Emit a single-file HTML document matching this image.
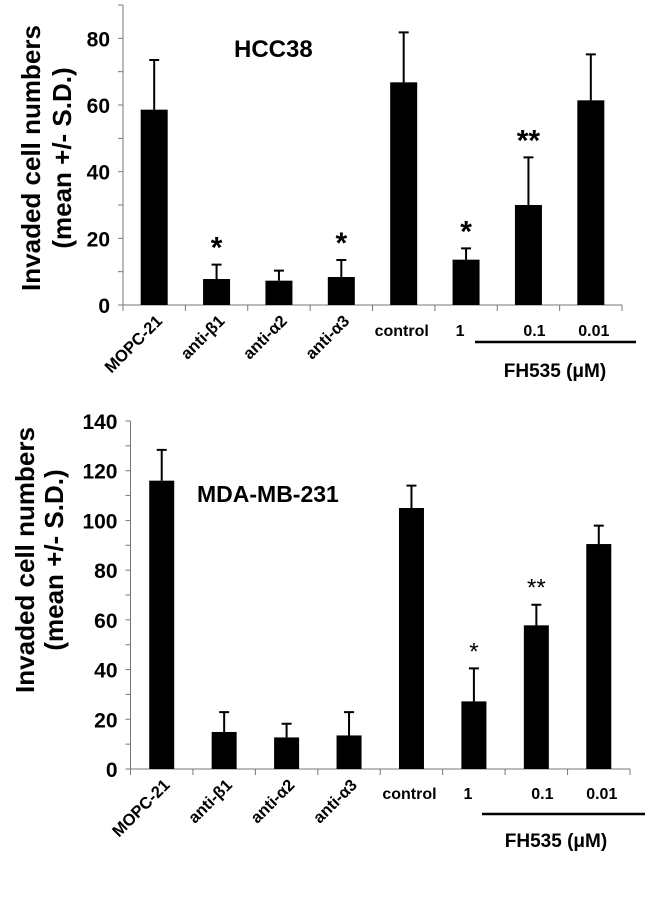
<!DOCTYPE html>
<html><head><meta charset="utf-8"><style>
body{margin:0;background:#fff}
svg{display:block;font-family:"Liberation Sans",Arial,sans-serif}
</style></head><body>
<svg id="s" width="649" height="897"></svg>
<script>
const categories=["MOPC-21","anti-β1","anti-α2","anti-α3","control","1","0.1","0.01"];
const hccValues=[58.6,7.8,7.3,8.4,66.8,13.6,30,61.4];
const hccErrors=[14.9,4.3,3.0,5.1,15.0,3.4,14.3,13.8];
const hccStars=["","*","","*","","*","**",""];
const hccTicks=[0,20,40,60,80];
const mdaValues=[116,14.9,12.7,13.5,105,27.2,57.8,90.5];
const mdaErrors=[12.4,8.0,5.5,9.4,9.0,13.3,8.3,7.4];
const mdaStars=["","","","","","*","**",""];
const mdaTicks=[0,20,40,60,80,100,120,140];
const NS="http://www.w3.org/2000/svg";
const svg=document.getElementById('s');
function mk(tag,attrs,parent,txt){const e=document.createElementNS(NS,tag);for(const k in attrs)e.setAttribute(k,attrs[k]);if(txt!==undefined)e.textContent=txt;(parent||svg).appendChild(e);return e;}
function chart(o){
  const g=mk('g',{});
  
  
  const y=v=>o.y0-(v/o.max)*(o.y0-o.ytop);
  const bw=(o.x1-o.x0)/categories.length;
  const xc=i=>o.x0+bw*(i+0.5);
  const ax=mk('line',{x1:o.x0,y1:o.ytop,x2:o.x0,y2:o.y0,stroke:'#777','stroke-width':1},g);
  
  
  const xa=mk('line',{x1:o.x0,y1:o.y0,x2:o.x1,y2:o.y0,stroke:'#777','stroke-width':1},g);
  
  
  for(let i=0;i<=categories.length;i++){mk('line',{x1:o.x0+bw*i,y1:o.y0,x2:o.x0+bw*i,y2:o.y0+6,stroke:'#777'},g);}
  const step=o.ticks[1]-o.ticks[0];
  for(let v=0;v<=o.max+0.01;v+=step/2){mk('line',{x1:o.x0-5,y1:y(v),x2:o.x0,y2:y(v),stroke:'#777'},g);}
  o.ticks.forEach(t=>{const tl=mk('text',{x:o.x0-13,y:y(t)+8,'text-anchor':'end','font-size':21,'font-weight':'bold'},g,t);
    
    });
  categories.forEach((c,i)=>{
    const b=mk('rect',{x:xc(i)-o.barW/2,y:y(o.values[i]),width:o.barW,height:o.y0-y(o.values[i]),fill:'#000'},g);
    
    
    const top=y(o.values[i]+o.errors[i]);
    const e=mk('path',{d:`M${xc(i)} ${y(o.values[i])}V${top}M${xc(i)-5} ${top}H${xc(i)+5}`,stroke:'#000','stroke-width':2,fill:'none'},g);
    
    
    if(o.stars[i]){const s=mk('text',{x:xc(i),y:top-o.starGap,'text-anchor':'middle','font-size':o.starSize,'font-weight':o.starWeight},g,o.stars[i]);
      
      }
    let t;
    if(i<4){t=mk('text',{x:xc(i)+9,y:o.y0+17,'text-anchor':'end','font-size':16.5,'font-weight':'bold',transform:`rotate(-45 ${xc(i)+9} ${o.y0+17})`},g,c);}
    else{t=mk('text',{x:xc(i)+(i===4?-2:i===5?-6:i===6?6:3),y:o.lblY,'text-anchor':'middle','font-size':16,'font-weight':'bold'},g,c);}
    
    
  });
  const ln=mk('line',{x1:o.lineX0,y1:o.lineY,x2:o.lineX1,y2:o.lineY,stroke:'#000','stroke-width':2.5},g);
  
  
  const fh=mk('text',{x:o.fhX,y:o.fhY,'text-anchor':'middle','font-size':19,'font-weight':'bold'},g,'FH535 (μM)');
  
  
  const tt=mk('text',{x:o.titleX,y:o.titleY,'font-size':o.titleSize,'font-weight':'bold'},g,o.title);
  
  
  const yt=mk('text',{transform:`translate(${o.ytX},${o.ytY}) rotate(-90)`,'text-anchor':'middle','font-size':o.ytSize,'font-weight':'bold'},g);
  
  
  mk('tspan',{x:0,y:0},yt,'Invaded cell numbers');
  mk('tspan',{x:0,y:o.ytGap},yt,'(mean +/- S.D.)');
}
chart({name:'hcc38-chart',values:hccValues,errors:hccErrors,stars:hccStars,ticks:hccTicks,max:90,x0:123,x1:622,ytop:5,y0:305,barW:27,
  starGap:7,starSize:30,starWeight:'bold',lblY:336,lineX0:475,lineX1:636,lineY:342,fhX:555,fhY:377,title:'HCC38',titleX:234,titleY:57,titleSize:24,ytX:40,ytY:158,ytSize:26,ytGap:31});
chart({name:'mda-mb-231-chart',values:mdaValues,errors:mdaErrors,stars:mdaStars,ticks:mdaTicks,max:140,x0:130.5,x1:630,ytop:421,y0:769,barW:25,
  starGap:9,starSize:24,starWeight:'normal',lblY:799,lineX0:482,lineX1:645,lineY:814,fhX:556,fhY:847,title:'MDA-MB-231',titleX:197,titleY:502,titleSize:23,ytX:34,ytY:560,ytSize:26,ytGap:29});
</script>
</body></html>
